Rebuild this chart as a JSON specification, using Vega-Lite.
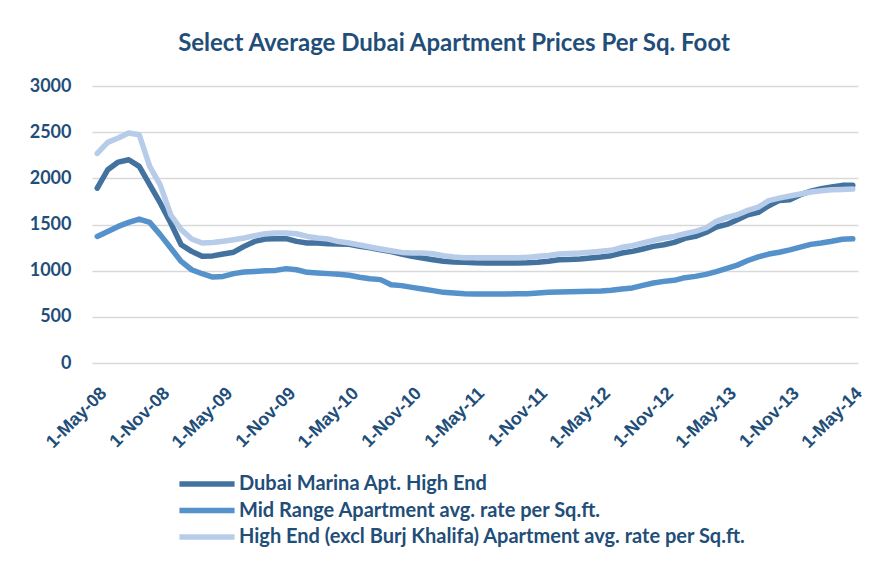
{
  "$schema": "https://vega.github.io/schema/vega-lite/v6.json",
  "width": 766,
  "height": 277,
  "autosize": "none",
  "padding": {"left": 92, "top": 86, "right": 32, "bottom": 198},
  "background": "white",
  "title": {
    "text": "Select Average Dubai Apartment Prices Per Sq. Foot",
    "font": "Lato",
    "fontSize": 24,
    "fontWeight": "bold",
    "color": "#1F4E79",
    "anchor": "middle",
    "dx": -21,
    "offset": 21
  },
  "data": {
    "values": [
      {"m": "1-May-08", "Marina": 1895, "Mid": 1371, "High": 2270},
      {"m": "1-Jun-08", "Marina": 2093, "Mid": 1425, "High": 2389},
      {"m": "1-Jul-08", "Marina": 2176, "Mid": 1479, "High": 2436},
      {"m": "1-Aug-08", "Marina": 2201, "Mid": 1523, "High": 2490},
      {"m": "1-Sep-08", "Marina": 2129, "Mid": 1559, "High": 2472},
      {"m": "1-Oct-08", "Marina": 1931, "Mid": 1523, "High": 2129},
      {"m": "1-Nov-08", "Marina": 1733, "Mid": 1390, "High": 1930},
      {"m": "1-Dec-08", "Marina": 1516, "Mid": 1245, "High": 1606},
      {"m": "1-Jan-09", "Marina": 1281, "Mid": 1100, "High": 1444},
      {"m": "1-Feb-09", "Marina": 1209, "Mid": 1010, "High": 1343},
      {"m": "1-Mar-09", "Marina": 1155, "Mid": 967, "High": 1300},
      {"m": "1-Apr-09", "Marina": 1160, "Mid": 931, "High": 1305},
      {"m": "1-May-09", "Marina": 1180, "Mid": 938, "High": 1318},
      {"m": "1-Jun-09", "Marina": 1200, "Mid": 968, "High": 1335},
      {"m": "1-Jul-09", "Marina": 1263, "Mid": 985, "High": 1354},
      {"m": "1-Aug-09", "Marina": 1317, "Mid": 992, "High": 1379},
      {"m": "1-Sep-09", "Marina": 1343, "Mid": 1000, "High": 1400},
      {"m": "1-Oct-09", "Marina": 1347, "Mid": 1003, "High": 1407},
      {"m": "1-Nov-09", "Marina": 1347, "Mid": 1022, "High": 1407},
      {"m": "1-Dec-09", "Marina": 1317, "Mid": 1010, "High": 1400},
      {"m": "1-Jan-10", "Marina": 1300, "Mid": 982, "High": 1371},
      {"m": "1-Feb-10", "Marina": 1300, "Mid": 975, "High": 1354},
      {"m": "1-Mar-10", "Marina": 1292, "Mid": 968, "High": 1343},
      {"m": "1-Apr-10", "Marina": 1290, "Mid": 960, "High": 1315},
      {"m": "1-May-10", "Marina": 1285, "Mid": 950, "High": 1300},
      {"m": "1-Jun-10", "Marina": 1265, "Mid": 928, "High": 1278},
      {"m": "1-Jul-10", "Marina": 1249, "Mid": 913, "High": 1256},
      {"m": "1-Aug-10", "Marina": 1227, "Mid": 903, "High": 1235},
      {"m": "1-Sep-10", "Marina": 1206, "Mid": 848, "High": 1216},
      {"m": "1-Oct-10", "Marina": 1181, "Mid": 838, "High": 1198},
      {"m": "1-Nov-10", "Marina": 1155, "Mid": 819, "High": 1191},
      {"m": "1-Dec-10", "Marina": 1137, "Mid": 802, "High": 1191},
      {"m": "1-Jan-11", "Marina": 1119, "Mid": 784, "High": 1184},
      {"m": "1-Feb-11", "Marina": 1101, "Mid": 765, "High": 1162},
      {"m": "1-Mar-11", "Marina": 1094, "Mid": 758, "High": 1148},
      {"m": "1-Apr-11", "Marina": 1090, "Mid": 751, "High": 1141},
      {"m": "1-May-11", "Marina": 1085, "Mid": 748, "High": 1140},
      {"m": "1-Jun-11", "Marina": 1083, "Mid": 748, "High": 1140},
      {"m": "1-Jul-11", "Marina": 1083, "Mid": 748, "High": 1140},
      {"m": "1-Aug-11", "Marina": 1083, "Mid": 748, "High": 1140},
      {"m": "1-Sep-11", "Marina": 1083, "Mid": 750, "High": 1140},
      {"m": "1-Oct-11", "Marina": 1085, "Mid": 750, "High": 1144},
      {"m": "1-Nov-11", "Marina": 1090, "Mid": 758, "High": 1155},
      {"m": "1-Dec-11", "Marina": 1101, "Mid": 765, "High": 1165},
      {"m": "1-Jan-12", "Marina": 1119, "Mid": 770, "High": 1180},
      {"m": "1-Feb-12", "Marina": 1122, "Mid": 773, "High": 1185},
      {"m": "1-Mar-12", "Marina": 1126, "Mid": 775, "High": 1191},
      {"m": "1-Apr-12", "Marina": 1137, "Mid": 778, "High": 1200},
      {"m": "1-May-12", "Marina": 1148, "Mid": 780, "High": 1210},
      {"m": "1-Jun-12", "Marina": 1162, "Mid": 787, "High": 1220},
      {"m": "1-Jul-12", "Marina": 1191, "Mid": 802, "High": 1253},
      {"m": "1-Aug-12", "Marina": 1209, "Mid": 813, "High": 1271},
      {"m": "1-Sep-12", "Marina": 1235, "Mid": 841, "High": 1300},
      {"m": "1-Oct-12", "Marina": 1263, "Mid": 867, "High": 1328},
      {"m": "1-Nov-12", "Marina": 1281, "Mid": 884, "High": 1354},
      {"m": "1-Dec-12", "Marina": 1307, "Mid": 895, "High": 1371},
      {"m": "1-Jan-13", "Marina": 1350, "Mid": 924, "High": 1400},
      {"m": "1-Feb-13", "Marina": 1371, "Mid": 938, "High": 1425},
      {"m": "1-Mar-13", "Marina": 1414, "Mid": 960, "High": 1462},
      {"m": "1-Apr-13", "Marina": 1473, "Mid": 990, "High": 1534},
      {"m": "1-May-13", "Marina": 1501, "Mid": 1025, "High": 1577},
      {"m": "1-Jun-13", "Marina": 1552, "Mid": 1060, "High": 1606},
      {"m": "1-Jul-13", "Marina": 1606, "Mid": 1110, "High": 1653},
      {"m": "1-Aug-13", "Marina": 1631, "Mid": 1150, "High": 1689},
      {"m": "1-Sep-13", "Marina": 1703, "Mid": 1180, "High": 1758},
      {"m": "1-Oct-13", "Marina": 1761, "Mid": 1200, "High": 1786},
      {"m": "1-Nov-13", "Marina": 1768, "Mid": 1225, "High": 1808},
      {"m": "1-Dec-13", "Marina": 1822, "Mid": 1255, "High": 1830},
      {"m": "1-Jan-14", "Marina": 1862, "Mid": 1285, "High": 1852},
      {"m": "1-Feb-14", "Marina": 1887, "Mid": 1300, "High": 1866},
      {"m": "1-Mar-14", "Marina": 1906, "Mid": 1318, "High": 1877},
      {"m": "1-Apr-14", "Marina": 1924, "Mid": 1340, "High": 1880},
      {"m": "1-May-14", "Marina": 1924, "Mid": 1345, "High": 1884}
    ]
  },
  "transform": [{"fold": ["Marina", "Mid", "High"], "as": ["s", "v"]}],
  "mark": {"type": "line", "strokeWidth": 5.5, "strokeCap": "round", "strokeJoin": "round"},
  "encoding": {
    "x": {
      "field": "m",
      "type": "ordinal",
      "sort": null,
      "scale": {"type": "point", "padding": 0.5},
      "axis": {
        "values": ["1-May-08", "1-Nov-08", "1-May-09", "1-Nov-09", "1-May-10", "1-Nov-10", "1-May-11", "1-Nov-11", "1-May-12", "1-Nov-12", "1-May-13", "1-Nov-13", "1-May-14"],
        "title": null,
        "grid": false,
        "domain": false,
        "ticks": false,
        "labelAngle": -45,
        "labelFont": "Liberation Sans",
        "labelFontSize": 18,
        "labelFontWeight": "bold",
        "labelColor": "#1F4E79",
        "labelPadding": 21
      }
    },
    "y": {
      "field": "v",
      "type": "quantitative",
      "scale": {"domain": [0, 3000]},
      "axis": {
        "values": [0, 500, 1000, 1500, 2000, 2500, 3000],
        "format": "d",
        "title": null,
        "grid": true,
        "gridColor": "#D9D9D9",
        "gridWidth": 1.5,
        "domain": false,
        "ticks": false,
        "labelFont": "Lato",
        "labelFontSize": 18,
        "labelFontWeight": "bold",
        "labelColor": "#1F4E79",
        "labelPadding": 21
      }
    },
    "color": {
      "field": "s",
      "type": "nominal",
      "sort": ["Marina", "Mid", "High"],
      "scale": {"domain": ["Marina", "Mid", "High"], "range": ["#43729F", "#5591CA", "#B7CCE8"]},
      "legend": {
        "orient": "none",
        "legendX": 105,
        "legendY": 388,
        "direction": "vertical",
        "title": null,
        "symbolType": "M-4,0H4",
        "symbolSize": 190,
        "symbolStrokeWidth": 5.5,
        "labelFont": "Lato",
        "labelFontSize": 20,
        "labelFontWeight": "bold",
        "labelColor": "#1F4E79",
        "labelOffset": 22,
        "rowPadding": 4.5,
        "labelLimit": 700,
        "labelExpr": "datum.label == 'Marina' ? 'Dubai Marina Apt. High End' : datum.label == 'Mid' ? 'Mid Range Apartment avg. rate per Sq.ft.' : 'High End (excl Burj Khalifa) Apartment avg. rate per Sq.ft.'"
      }
    }
  },
  "config": {"view": {"stroke": null}}
}
